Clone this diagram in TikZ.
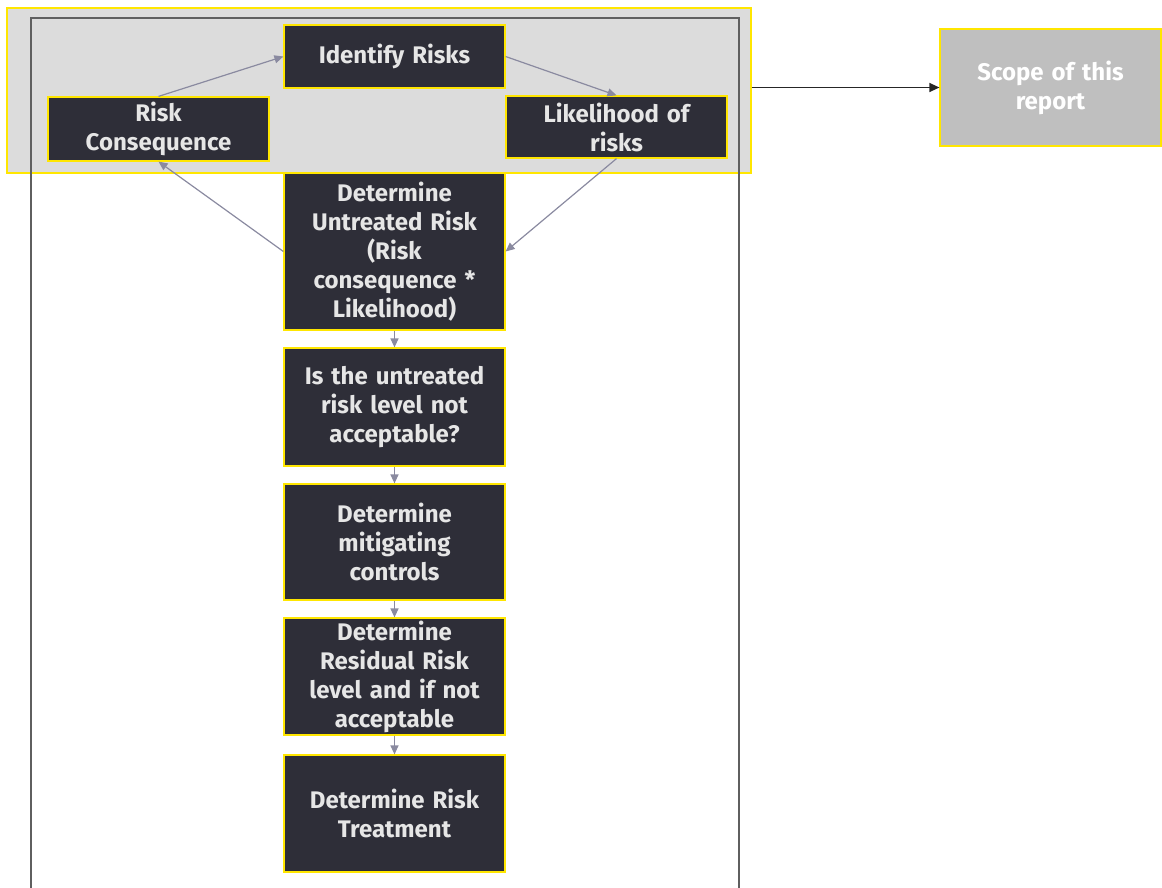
\documentclass[tikz,border=0pt]{standalone}
\usepackage{fontspec}
\setmainfont{Fira Sans}
\usetikzlibrary{arrows.meta}
\definecolor{boxfill}{HTML}{2E2E38}
\definecolor{eyyellow}{HTML}{FFE600}
\definecolor{boxtext}{HTML}{E6E6E6}
\definecolor{zonefill}{HTML}{DCDCDC}
\definecolor{scopefill}{HTML}{BFBFBF}
\definecolor{flowline}{HTML}{8A8AA0}
\definecolor{framegray}{HTML}{5F5F5F}
\begin{document}
\begin{tikzpicture}[x=1pt,y=-1pt,
  stepbox/.style={rectangle, draw=eyyellow, line width=1.2pt, fill=boxfill,
    text=boxtext, inner sep=0pt, minimum width=221pt, text width=215pt, align=center,
    font=\fontsize{24}{29}\selectfont\bfseries},
  scopebox/.style={stepbox, fill=scopefill, text=white},
  zone/.style={rectangle, draw=eyyellow, line width=1.6pt, fill=zonefill, inner sep=0pt},
  flow/.style={draw=flowline, line width=1.2pt, -{Triangle[length=9pt,width=8pt]}},
  link/.style={draw=black!85, line width=1.3pt, -{Triangle[length=10pt,width=9pt]}}
]
\useasboundingbox (0,0) rectangle (1162,888);
% highlighted region around the first three steps
\node[zone, minimum width=744pt, minimum height=165pt] (zonebox) at (379,90.5) {};
% surrounding process frame
\draw[framegray, line width=1.2pt] (31,900) -- (31,18) -- (739,18) -- (739,900);
% process steps
\node[stepbox, minimum height=63pt] (ident) at (394.5,56.5) {Identify Risks};
\node[stepbox, minimum height=64pt] (cons) at (158.5,129) {Risk\\Consequence};
\node[stepbox, minimum height=62pt] (like) at (616.5,127) {Likelihood of\\risks};
\node[stepbox, minimum height=157pt] (untr) at (394.5,251.5) {Determine\\Untreated Risk\\(Risk\\consequence *\\Likelihood)};
\node[stepbox, minimum height=118pt] (notacc) at (394.5,407) {Is the untreated\\risk level not\\acceptable?};
\node[stepbox, minimum height=116pt] (mitig) at (394.5,542) {Determine\\mitigating\\controls};
\node[stepbox, minimum height=117pt] (resid) at (394.5,676.5) {Determine\\Residual Risk\\level and if not\\acceptable};
\node[stepbox, minimum height=117pt] (treat) at (394.5,813.5) {Determine Risk\\Treatment};
\node[scopebox, minimum height=117pt] (scope) at (1050.5,87.5) {Scope of this\\report};
% connectors
\draw[flow] (cons.north) -- (ident.west);
\draw[flow] (ident.east) -- (like.north);
\draw[flow] (like.south) -- (untr.east);
\draw[flow] (untr.west) -- (cons.south);
\draw[flow] (untr) -- (notacc);
\draw[flow] (notacc) -- (mitig);
\draw[flow] (mitig) -- (resid);
\draw[flow] (resid) -- (treat);
\draw[link] (zonebox.east |- scope.west) -- (scope.west);
\end{tikzpicture}
\end{document}
